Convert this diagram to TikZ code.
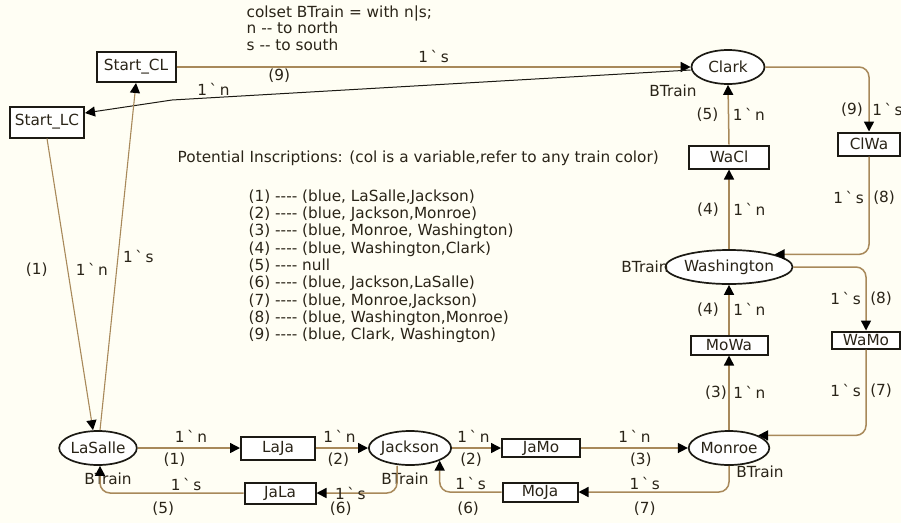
\documentclass[tikz,border=0pt]{standalone}
\usepackage{fontspec}
\setmainfont{DejaVu Sans}
\usetikzlibrary{arrows.meta, calc, positioning, shapes.geometric}
\definecolor{mArc}{HTML}{A8895A}
\definecolor{mInk}{HTML}{2A2418}
\definecolor{mEdge}{HTML}{1C1A14}
\definecolor{mPaper}{HTML}{FFFEF4}
\newcommand{\cpnfont}{\fontsize{15.3}{16.5}\selectfont}
\newcommand{\tk}[1]{1\,\textasciigrave\,#1}

\begin{document}
\begin{tikzpicture}[
  x=1pt, y=-1pt,
  place/.style={ellipse, draw=mEdge, line width=1.7pt, fill=white, inner sep=0pt,
                minimum width=#1, minimum height=34pt, font=\cpnfont\color{mInk}},
  place/.default=75pt,
  trans/.style={draw=mEdge, line width=2pt, fill=white, inner sep=0pt,
                minimum width=#1, minimum height=21pt, font=\cpnfont\color{mInk}},
  ins/.style={font=\cpnfont, text=mInk, inner sep=1.5pt},
  arc/.style={-{Triangle[length=10pt, width=10pt, color=black]}, line width=1.5pt,
              draw=#1, rounded corners=10pt},
  arc/.default=mArc]
  \fill[mPaper] (0,0) rectangle (901,523);
  \useasboundingbox (0,0) rectangle (901,523);
  % places
  \node[place=73pt] (Clark) at (728,67) {Clark};
  \node[place=104pt] (Washington) at (729,267) {Washington};
  \node[place] (Monroe) at (729,448) {Monroe};
  \node[place=76pt] (Jackson) at (410,448) {Jackson};
  \node[place] (LaSalle) at (98,448) {LaSalle};
  % transitions
  \node[trans=79pt, minimum height=30pt] (StartCL) at (136,67) {Start\_CL};
  \node[trans=74pt, minimum height=31pt] (StartLC) at (47,122) {Start\_LC};
  \node[trans=80pt, minimum height=23pt] (WaCl) at (729,157) {WaCl};
  \node[trans=62pt, minimum height=23pt] (ClWa) at (869,144) {ClWa};
  \node[trans=77pt, minimum height=19pt] (MoWa) at (729,345) {MoWa};
  \node[trans=68pt, minimum height=17pt] (WaMo) at (866,340) {WaMo};
  \node[trans=74pt, minimum height=23pt] (LaJa) at (278,448) {LaJa};
  \node[trans=71pt] (JaLa) at (280,493) {JaLa};
  \node[trans=78pt, minimum height=18pt] (JaMo) at (541,448) {JaMo};
  \node[trans=75pt, minimum height=19pt] (MoJa) at (540,492) {MoJa};
  % colour set labels
  \foreach \n/\p in {btClark/{(673,91)}, btWash/{(645,267)}, btMon/{(760,472)},
                     btJack/{(405,479)}, btLaS/{(108,479)}}
    \node[ins] (\n) at \p {BTrain};
  % declarations
  \node[ins, anchor=north west, align=left] (colset) at (245,4)
    {colset BTrain = with n|s;\\ n -{}- to north\\ s -{}- to south};
  \node[ins, anchor=west] (potential) at (176,158)
    {Potential Inscriptions: (col is a variable,refer to any train color)};
  \node[ins, anchor=north west, align=left, font=\fontsize{15.3}{17.3}\selectfont] (list) at (247,188)
    {(1) -{}-{}-{}- (blue, LaSalle,Jackson)\\
     (2) -{}-{}-{}- (blue, Jackson,Monroe)\\
     (3) -{}-{}-{}- (blue, Monroe, Washington)\\
     (4) -{}-{}-{}- (blue, Washington,Clark)\\
     (5) -{}-{}-{}- null\\
     (6) -{}-{}-{}- (blue, Jackson,LaSalle)\\
     (7) -{}-{}-{}- (blue, Monroe,Jackson)\\
     (8) -{}-{}-{}- (blue, Washington,Monroe)\\
     (9) -{}-{}-{}- (blue, Clark, Washington)};
  % start transitions
  \coordinate (bendLC) at (172,100);
  \draw[arc] (StartCL.east) -- node[ins, pos=0.5, above=2pt] {\tk{s}} node[ins, pos=0.2, below] {(9)} (Clark.west);
  \draw[arc=mEdge, line width=1pt, rounded corners=0pt] ([yshift=-3pt]Clark.west) -- node[ins, pos=0.92, above] {\tk{n}} (bendLC)
    -- ([yshift=9pt]StartLC.east);
  \draw[arc, line width=1.1pt] (StartLC.south) -- node[ins, pos=0.45, right=6pt] {\tk{n}} node[ins, pos=0.45, left=18pt] {(1)}
    ([xshift=-5pt]LaSalle.north);
  \draw[arc, line width=1.1pt] ([xshift=2pt]LaSalle.north) -- node[ins, pos=0.5, right=3pt] {\tk{s}} (StartCL.south);
  % northbound
  \draw[arc] (LaSalle.east) -- node[ins, pos=0.52, above=3pt] {\tk{n}} node[ins, pos=0.36, below=3pt] {(1)} (LaJa.west);
  \draw[arc] (LaJa.east) -- node[ins, pos=0.45, above=3pt] {\tk{n}} node[ins, pos=0.43, below=3pt] {(2)} (Jackson.west);
  \draw[arc] (Jackson.east) -- node[ins, pos=0.44, above=3pt] {\tk{n}} node[ins, pos=0.39, below=3pt] {(2)} (JaMo.west);
  \draw[arc] (JaMo.east) -- node[ins, pos=0.5, above=3pt] {\tk{n}} node[ins, pos=0.56, below=3pt] {(3)} (Monroe.west);
  \draw[arc] (Monroe.north) -- node[ins, right=2pt] {\tk{n}} node[ins, left=0pt] {(3)} (MoWa.south);
  \draw[arc] (MoWa.north) -- node[ins, right=2pt] {\tk{n}} node[ins, left=8pt] {(4)} (Washington.south);
  \draw[arc] (Washington.north) -- node[ins, right=2pt] {\tk{n}} node[ins, left=8pt] {(4)} (WaCl.south);
  \draw[arc] (WaCl.north) -- node[ins, right=2pt] {\tk{n}} node[ins, left=8pt] {(5)} (Clark.south);
  % southbound
  \draw[arc] (Clark.east) -| node[ins, pos=0.83, right=1pt] {\tk{s}} node[ins, pos=0.83, left=4pt] {(9)} (ClWa.north);
  \draw[arc] (ClWa.south) |- node[ins, pos=0.21, left=3pt] {\tk{s}} node[ins, pos=0.21, right=2pt] {(8)} (Washington.north east);
  \draw[arc] (Washington.east) -| node[ins, pos=0.75, left=3pt] {\tk{s}} node[ins, pos=0.75, right=2pt] {(8)} (WaMo.north);
  \draw[arc] (WaMo.south) |- node[ins, pos=0.24, left=3pt] {\tk{s}} node[ins, pos=0.24, right=2pt] {(7)} (Monroe.north east);
  \draw[arc] (Monroe.south) |- node[ins, pos=0.78, above] {\tk{s}} node[ins, pos=0.78, below=8pt] {(7)} (MoJa.east);
  \draw[arc] (MoJa.west) -| node[ins, pos=0.25, above] {\tk{s}} node[ins, pos=0.27, below=8pt] {(6)} (Jackson.south east);
  \draw[arc] ([xshift=-13pt]Jackson.south) |- node[ins, pos=0.79] {\tk{s}} node[ins, pos=0.85, below=7pt] {(6)} (JaLa.east);
  \draw[arc] (JaLa.west) -| node[ins, pos=0.2, above] {\tk{s}} node[ins, pos=0.28, below=7pt] {(5)} ([xshift=2pt]LaSalle.south);
\end{tikzpicture}
\end{document}
